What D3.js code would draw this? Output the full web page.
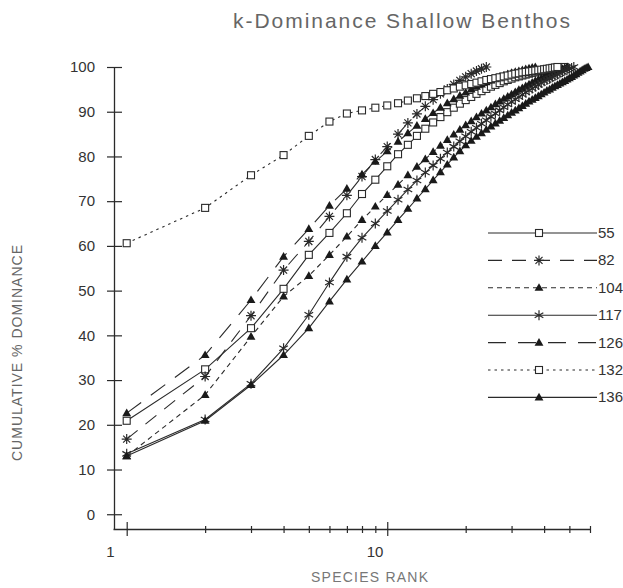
<!DOCTYPE html>
<html>
<head>
<meta charset="utf-8">
<script src="https://cdn.jsdelivr.net/npm/d3@7"></script>
<style>
body { margin: 0; background: #fff; }
svg { display: block; font-family: "Liberation Sans", Arial, sans-serif; }
</style>
</head>
<body>
<div id="viz"></div>
<script>
"use strict";

// cumulative % dominance by species rank (rank = index + 1)
var seriesNames = ["55", "82", "104", "117", "126", "132", "136"];

var s55 = [20.9, 32.4, 41.6, 50.4, 58.0, 62.9, 67.3, 71.6, 74.8, 77.8, 80.5, 82.6, 84.6, 86.2, 87.6, 88.8,
	89.9, 90.9, 91.8, 92.6, 93.3, 94.0, 94.6, 95.1, 95.6, 96.0, 96.4, 96.8, 97.1, 97.4, 97.7, 97.9,
	98.1, 98.3, 98.5, 98.7, 98.8, 99.0, 99.1, 99.2, 99.3, 99.4, 99.5, 99.6, 99.7, 99.8, 99.9, 100];
var s82 = [16.8, 30.8, 44.4, 54.6, 61.0, 66.6, 71.3, 75.5, 79.3, 82.2, 85.0, 87.5, 89.5, 91.2, 92.7, 94.0,
	95.1, 96.1, 97.0, 97.8, 98.5, 99.1, 99.6, 100];
var s104 = [13.0, 26.7, 39.7, 48.7, 53.3, 58.0, 62.1, 65.8, 68.8, 71.4, 73.7, 75.8, 77.7, 79.4, 81.0, 82.4,
	83.7, 84.9, 86.0, 87.0, 87.9, 88.8, 89.6, 90.3, 91.0, 91.7, 92.3, 92.9, 93.4, 93.9, 94.4, 94.9,
	95.3, 95.7, 96.1, 96.5, 96.9, 97.2, 97.5, 97.8, 98.1, 98.4, 98.7, 99.0, 99.2, 99.4, 99.6, 99.8, 100];
var s117 = [13.5, 21.2, 29.2, 37.1, 44.6, 51.8, 57.6, 61.8, 65.0, 67.8, 70.3, 72.6, 74.6, 76.4, 78.0, 79.5,
	80.9, 82.2, 83.4, 84.5, 85.5, 86.4, 87.3, 88.1, 88.9, 89.6, 90.3, 91.0, 91.6, 92.2, 92.8, 93.3,
	93.8, 94.3, 94.8, 95.2, 95.6, 96.0, 96.4, 96.8, 97.1, 97.4, 97.7, 98.0, 98.3, 98.6, 98.9, 99.2,
	99.4, 99.6, 99.8, 100];
var s126 = [22.6, 35.6, 47.9, 57.6, 63.8, 69.0, 72.8, 76.0, 78.8, 81.2, 83.3, 85.2, 86.9, 88.4, 89.7, 90.9,
	91.9, 92.8, 93.6, 94.3, 95.0, 95.6, 96.1, 96.6, 97.0, 97.4, 97.8, 98.1, 98.4, 98.7, 98.9, 99.1,
	99.3, 99.5, 99.7, 99.85, 100];
var s132 = [60.6, 68.5, 75.8, 80.3, 84.6, 87.8, 89.6, 90.3, 90.9, 91.4, 91.9, 92.5, 93.0, 93.5, 94.0, 94.4,
	94.8, 95.2, 95.6, 95.9, 96.2, 96.5, 96.8, 97.1, 97.3, 97.5, 97.7, 97.9, 98.1, 98.3, 98.5, 98.6,
	98.8, 98.9, 99.0, 99.1, 99.2, 99.3, 99.4, 99.5, 99.6, 99.7, 99.8, 99.9, 100];
var s136 = [13.0, 20.9, 28.9, 35.6, 41.6, 47.6, 52.5, 56.5, 60.0, 63.0, 65.8, 68.3, 70.6, 72.7, 74.7, 76.5,
	78.2, 79.8, 81.2, 82.5, 83.5, 84.4, 85.2, 86.0, 86.7, 87.4, 88.0, 88.6, 89.2, 89.8, 90.3, 90.8,
	91.3, 91.8, 92.3, 92.7, 93.1, 93.5, 93.9, 94.3, 94.7, 95.0, 95.4, 95.7, 96.0, 96.3, 96.6, 96.9,
	97.2, 97.5, 97.8, 98.1, 98.4, 98.7, 99.0, 99.3, 99.6, 99.8, 100];

var yTicks = [0, 10, 20, 30, 40, 50, 60, 70, 80, 90, 100];
var xTicks = [1, 2, 3, 4, 5, 6, 7, 8, 9, 10, 20, 30, 40, 50, 60];
var xLabels = [1, 10];

var seriesValues = [s55, s82, s104, s117, s126, s132, s136];

// line dash + marker for each series, same order as seriesNames
var styles = [
	{ dash: null, marker: "square" },
	{ dash: "14,10", marker: "star8" },
	{ dash: "5,4", marker: "triangle" },
	{ dash: null, marker: "star6" },
	{ dash: "18,12", marker: "triangle" },
	{ dash: "2.5,4", marker: "square" },
	{ dash: null, marker: "triangle" }
];

var width = 623, height = 588,
	ink = "#2a2a2a";

var svg = d3.select("#viz")
	.append("svg")
	.attr("width", width)
	.attr("height", height);

var x = d3.scaleLog().domain([0.886, 60]).range([113, 590]);
var y = d3.scaleLinear().domain([-3.3, 100]).range([529, 67]);

// title + axis titles
svg.append("text")
	.attr("x", 233)
	.attr("y", 28)
	.attr("font-size", "21px")
	.attr("fill", "#666")
	.attr("textLength", 337)
	.attr("lengthAdjust", "spacing")
	.text("k-Dominance Shallow Benthos");

svg.append("text")
	.attr("x", 311)
	.attr("y", 582)
	.attr("font-size", "14px")
	.attr("fill", "#777")
	.attr("textLength", 117)
	.attr("lengthAdjust", "spacing")
	.text("SPECIES RANK");

svg.append("text")
	.attr("transform", "translate(22,461) rotate(-90)")
	.attr("font-size", "14px")
	.attr("fill", "#666")
	.attr("textLength", 216)
	.attr("lengthAdjust", "spacing")
	.text("CUMULATIVE % DOMINANCE");

// axes
var yAxis = svg.append("g")
	.attr("transform", "translate(114,0)")
	.call(d3.axisLeft(y).tickValues(yTicks).tickSizeOuter(0));
yAxis.select(".domain").attr("stroke", ink).attr("stroke-width", 1.3);
yAxis.selectAll(".tick line").attr("x1", -7).attr("x2", 8).attr("stroke", ink).attr("stroke-width", 1.2);
yAxis.selectAll(".tick text")
	.attr("x", -19)
	.attr("font-size", "15px")
	.attr("font-family", "Liberation Sans, Arial, sans-serif")
	.attr("fill", "#333");

var xAxis = svg.append("g")
	.attr("transform", "translate(0,529)")
	.call(d3.axisBottom(x)
		.tickValues(xTicks)
		.tickSizeOuter(0)
		.tickFormat(function(d) { return xLabels.indexOf(d) >= 0 ? d : ""; }));
xAxis.select(".domain").attr("stroke", ink).attr("stroke-width", 1.3);
xAxis.selectAll(".tick line")
	.attr("y1", function(d) { return xLabels.indexOf(d) >= 0 ? -7 : -3; })
	.attr("y2", function(d) { return xLabels.indexOf(d) >= 0 ? 7 : 4; })
	.attr("stroke", ink)
	.attr("stroke-width", 1.2);
xAxis.selectAll(".tick text")
	.attr("text-anchor", "start")
	.attr("x", -21)
	.attr("y", 17)
	.attr("font-size", "15px")
	.attr("font-family", "Liberation Sans, Arial, sans-serif")
	.attr("fill", "#333");

// markers
var drawMarker = function(g, type, cx, cy) {
	if (type === "square") {
		g.append("rect")
			.attr("x", cx - 3.5).attr("y", cy - 3.5)
			.attr("width", 7).attr("height", 7)
			.attr("fill", "#fff").attr("stroke", ink).attr("stroke-width", 1.1);
	} else if (type === "triangle") {
		g.append("path")
			.attr("transform", "translate(" + cx + "," + (cy + 0.5) + ")")
			.attr("d", d3.symbol(d3.symbolTriangle, 34)())
			.attr("fill", "#1a1a1a");
	} else {
		var n = type === "star8" ? 4 : 3, r = 5, d = "";
		for (var k = 0; k < n; k++) {
			var a = Math.PI * k / n + (n === 3 ? Math.PI / 2 : 0);
			d += "M" + (cx - r * Math.cos(a)) + "," + (cy - r * Math.sin(a)) +
				"L" + (cx + r * Math.cos(a)) + "," + (cy + r * Math.sin(a));
		}
		g.append("path").attr("d", d).attr("stroke", ink).attr("stroke-width", 1.2).attr("fill", "none");
	}
};

var line = d3.line()
	.x(function(d, i) { return x(i + 1); })
	.y(function(d) { return y(d); });

seriesValues.forEach(function(vals, si) {
	var st = styles[si];
	var g = svg.append("g").attr("class", "series-" + seriesNames[si]);
	g.append("path")
		.attr("d", line(vals))
		.attr("fill", "none")
		.attr("stroke", ink)
		.attr("stroke-width", 1.1)
		.attr("stroke-dasharray", st.dash);
	vals.forEach(function(v, i) {
		drawMarker(g, st.marker, x(i + 1), y(v));
	});
});

// legend
var legend = svg.append("g");
seriesNames.forEach(function(name, i) {
	var ly = 233 + i * 27.4;
	legend.append("line")
		.attr("x1", 488).attr("x2", 597)
		.attr("y1", ly).attr("y2", ly)
		.attr("stroke", ink)
		.attr("stroke-width", 1.1)
		.attr("stroke-dasharray", styles[i].dash);
	drawMarker(legend, styles[i].marker, 539, ly);
	legend.append("text")
		.attr("x", 598)
		.attr("y", ly + 5)
		.attr("font-size", "15px")
		.attr("fill", "#333")
		.text(name);
});
</script>
</body>
</html>
